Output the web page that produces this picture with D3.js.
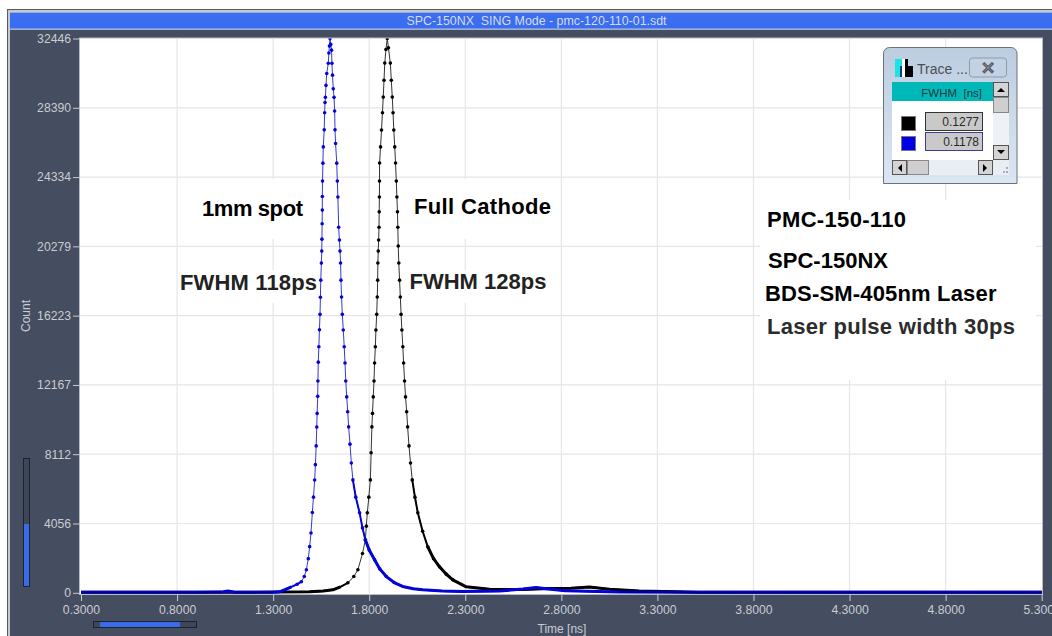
<!DOCTYPE html>
<html>
<head>
<meta charset="utf-8">
<title>SPC-150NX SING Mode</title>
<script src="https://d3js.org/d3.v7.min.js"></script>
<style>
  html, body { margin: 0; padding: 0; background: #fff; }
  svg { display: block; font-family: "Liberation Sans", Arial, sans-serif; }
</style>
</head>
<body>
<script>
// values
const timeTicks = [0.3, 0.8, 1.3, 1.8, 2.3, 2.8, 3.3, 3.8, 4.3, 4.8, 5.3];
const countTicks = [0, 4056, 8112, 12167, 16223, 20279, 24334, 28390, 32446];

const blueTime = [0.3, 0.6, 0.9, 1.03, 1.064, 1.1, 1.298, 1.334, 1.365, 1.395, 1.425, 1.447, 1.462, 1.473, 1.483, 1.49, 1.497, 1.504, 1.51, 1.516, 1.52, 1.524, 1.527, 1.529, 1.532, 1.533, 1.535, 1.538, 1.541, 1.544, 1.546, 1.548, 1.551, 1.553, 1.554, 1.555, 1.556, 1.556, 1.557, 1.559, 1.561, 1.566, 1.568, 1.57, 1.572, 1.575, 1.579, 1.587, 1.59, 1.593, 1.596, 1.6, 1.604, 1.606, 1.609, 1.613, 1.617, 1.62, 1.622, 1.625, 1.631, 1.634, 1.637, 1.641, 1.645, 1.648, 1.651, 1.653, 1.656, 1.66, 1.665, 1.67, 1.674, 1.678, 1.683, 1.688, 1.693, 1.7, 1.707, 1.715, 1.73, 1.75, 1.765, 1.78, 1.8, 1.828, 1.855, 1.889, 1.93, 1.974, 2.03, 2.078, 2.18, 2.285, 2.478, 2.6, 2.669, 2.72, 2.821, 3.1, 3.5, 4, 4.5, 5, 5.3];
const blueCount = [30, 30, 30, 40, 100, 30, 30, 60, 200, 350, 500, 650, 950, 1350, 2000, 2700, 3500, 4700, 5600, 6600, 7500, 8600, 9700, 10500, 11500, 12400, 13500, 14400, 15400, 16300, 17300, 18300, 19300, 20000, 20700, 21600, 22400, 23200, 24100, 25150, 26100, 27100, 28100, 28700, 29000, 29700, 30400, 31000, 31600, 32000, 32446, 32100, 31765, 31000, 30300, 29500, 29000, 28200, 27100, 26300, 25150, 24100, 23166, 21400, 20650, 20000, 19305, 18300, 17316, 16300, 15385, 14400, 13455, 12400, 11466, 10600, 9711, 8700, 7600, 6610, 5600, 4680, 3800, 3100, 2500, 1930, 1400, 950, 600, 370, 240, 175, 110, 80, 100, 220, 310, 240, 120, 50, 30, 30, 30, 30, 30];

const blackTime = [0.3, 1, 1.334, 1.49, 1.56, 1.611, 1.65, 1.689, 1.72, 1.741, 1.765, 1.78, 1.785, 1.79, 1.798, 1.806, 1.81, 1.814, 1.817, 1.821, 1.825, 1.828, 1.832, 1.835, 1.839, 1.842, 1.844, 1.845, 1.847, 1.849, 1.851, 1.852, 1.853, 1.8535, 1.854, 1.859, 1.864, 1.869, 1.873, 1.877, 1.881, 1.887, 1.894, 1.9, 1.91, 1.915, 1.92, 1.924, 1.928, 1.933, 1.937, 1.941, 1.944, 1.947, 1.949, 1.951, 1.954, 1.958, 1.962, 1.966, 1.97, 1.975, 1.979, 1.984, 1.989, 1.995, 2, 2.007, 2.015, 2.024, 2.038, 2.053, 2.078, 2.105, 2.135, 2.166, 2.2, 2.235, 2.305, 2.426, 2.6, 2.738, 2.85, 2.946, 3.05, 3.205, 3.517, 4.5, 5.3];
const blackCount = [30, 30, 40, 58, 110, 175, 350, 585, 950, 1345, 2300, 3100, 3900, 4680, 5600, 6610, 8200, 9711, 10500, 11466, 12400, 13455, 14400, 15385, 16300, 17316, 18300, 19305, 20000, 20650, 21400, 22300, 23166, 24100, 25155, 26100, 27085, 28100, 29016, 30000, 31005, 31800, 32446, 31900, 31005, 30000, 29016, 28100, 27085, 26100, 25155, 24100, 23166, 22300, 21400, 20300, 19305, 18300, 17316, 16300, 15385, 14400, 13455, 12400, 11466, 10600, 9711, 8600, 7600, 6610, 5600, 4680, 3600, 2691, 2000, 1520, 1100, 760, 350, 205, 190, 250, 270, 333, 210, 100, 30, 30, 30];

const labels = ["1mm spot", "Full Cathode", "FWHM 118ps", "FWHM 128ps", "PMC-150-110", "SPC-150NX", "BDS-SM-405nm Laser", "Laser pulse width 30ps"];
const labelX = [202, 414, 180, 409.5, 767, 768, 765, 767];
const labelW = [101, 137, 137, 137, 139, 120, 231.5, 248];
const labelY = [215.7, 214.3, 290, 289, 227.3, 268.3, 300.7, 334];
const labelColor = ["#000", "#000", "#222", "#222", "#000", "#000", "#000", "#2c2c2c"];

const fwhmValues = ["0.1277", "0.1178"];
const fwhmColors = ["#000", "#0000e6"];

const w = 1052;
const h = 636;
const panel = "#454d60";
const tickColor = "#c9ccd2";

const svg = d3.select("body").append("svg").attr("width", w).attr("height", h);

// window frame
svg.append("rect").attr("width", w).attr("height", h).attr("fill", "#fff");
svg.append("rect").attr("x", 7).attr("y", 9).attr("width", w).attr("height", h).attr("fill", "#5a5a5e");
svg.append("rect").attr("x", 8).attr("y", 10).attr("width", w).attr("height", h).attr("fill", "#c4c8d0");
svg.append("rect").attr("x", 10).attr("y", 29).attr("width", w).attr("height", h).attr("fill", panel);
svg.append("rect").attr("x", 10).attr("y", 12.7).attr("width", w).attr("height", 16).attr("fill", "#3a6df0");
svg.append("rect").attr("x", 10).attr("y", 28.7).attr("width", w).attr("height", 1.2).attr("fill", "#a9bce0");
svg.append("text").attr("x", 536.5).attr("y", 25).attr("text-anchor", "middle")
  .attr("font-size", 12.4).attr("fill", "#d5dcea").attr("xml:space", "preserve")
  .text("SPC-150NX  SING Mode - pmc-120-110-01.sdt");

// scales
const xScale = d3.scaleLinear().domain([0.3, 5.3]).range([81, 1041.7]);
const yScale = d3.scaleLinear().domain([0, 32446]).range([592.8, 38.5]);

// plot background and grid
svg.append("rect").attr("x", 79.5).attr("y", 38).attr("width", 963).attr("height", 556.5)
  .attr("fill", "#fff").attr("stroke", "#b9bcc4").attr("stroke-width", 1);

svg.selectAll(".vgrid").data(timeTicks.slice(1, -1)).enter().append("line")
  .attr("x1", (d) => xScale(d)).attr("x2", (d) => xScale(d))
  .attr("y1", 38.5).attr("y2", 593)
  .attr("stroke", "#e6e6e6").attr("stroke-width", 1.2);
svg.selectAll(".hgrid").data(countTicks.slice(1, -1)).enter().append("line")
  .attr("x1", 80).attr("x2", 1042)
  .attr("y1", (d) => yScale(d)).attr("y2", (d) => yScale(d))
  .attr("stroke", "#e6e6e6").attr("stroke-width", 1.2);

// white boxes pasted under the annotations hide the grid
const boxes = [[190, 179, 130, 60], [410, 179, 145, 60], [178, 270, 140, 33], [408, 270, 140, 33], [760, 200, 276, 180]];
svg.selectAll(".box").data(boxes).enter().append("rect")
  .attr("x", (d) => d[0]).attr("y", (d) => d[1]).attr("width", (d) => d[2]).attr("height", (d) => d[3])
  .attr("fill", "#fff");

// axes
const xAxis = d3.axisBottom(xScale).tickValues(timeTicks).tickFormat(d3.format(".4f")).tickSize(6).tickPadding(4);
const yAxis = d3.axisLeft(yScale).tickValues(countTicks).tickFormat(d3.format("d")).tickSize(7).tickPadding(2);

const gx = svg.append("g").attr("transform", "translate(0,595)").call(xAxis);
const gy = svg.append("g").attr("transform", "translate(80,0)").call(yAxis);
[gx, gy].forEach((g) => {
  g.select(".domain").remove();
  g.selectAll("line").attr("stroke", tickColor);
  g.selectAll("text").attr("fill", tickColor).attr("font-size", 12.2).attr("font-family", "Liberation Sans, Arial, sans-serif");
});

svg.append("text").attr("x", 562).attr("y", 633).attr("text-anchor", "middle")
  .attr("font-size", 12).attr("fill", tickColor).text("Time [ns]");
svg.append("text").attr("transform", "translate(30,316) rotate(-90)").attr("text-anchor", "middle")
  .attr("font-size", 12).attr("fill", tickColor).text("Count");

// sliders
svg.append("rect").attr("x", 23.5).attr("y", 458.5).attr("width", 6).attr("height", 128)
  .attr("fill", "#3f4657").attr("stroke", "#1d2230");
svg.append("rect").attr("x", 24).attr("y", 524).attr("width", 5).attr("height", 62).attr("fill", "#3b6ce8");
svg.append("rect").attr("x", 93.5).attr("y", 621.5).attr("width", 103).attr("height", 6)
  .attr("fill", "#3f4657").attr("stroke", "#1d2230");
svg.append("rect").attr("x", 100).attr("y", 622).attr("width", 80).attr("height", 5).attr("fill", "#3b6ce8");

// curves
svg.append("clipPath").attr("id", "plot-clip").append("rect")
  .attr("x", 80).attr("y", 38.5).attr("width", 962.5).attr("height", 556);

const plot = svg.append("g").attr("clip-path", "url(#plot-clip)");

function drawTrace(times, counts, lineColor, dotColor) {
  const pts = times.map((t, i) => ({ t: t, c: counts[i] }));
  const peak = times[counts.indexOf(d3.max(counts))];
  const line = d3.line().x((d) => xScale(d.t)).y((d) => yScale(d.c));

  plot.append("path").datum(pts).attr("d", line)
    .attr("fill", "none").attr("stroke", lineColor).attr("stroke-width", 1);

  // channels crowd together in the tails, so the trace gets heavier there
  [[700, 7500, 2], [500, 3500, 3]].forEach((s) => {
    plot.append("path").datum(pts)
      .attr("d", line.defined((d) => d.c < (d.t < peak ? s[0] : s[1])))
      .attr("fill", "none").attr("stroke", dotColor).attr("stroke-width", s[2]).attr("stroke-linejoin", "round");
  });
  line.defined(() => true);

  plot.selectAll(null).data(pts.filter((d) => d.c > 400)).enter().append("circle")
    .attr("cx", (d) => xScale(d.t)).attr("cy", (d) => yScale(d.c)).attr("r", 1.8)
    .attr("fill", dotColor);
}

drawTrace(blackTime, blackCount, "#333", "#000");
drawTrace(blueTime, blueCount, "#3a3ad0", "#0404d8");

// navy core where both traces lie on the floor
plot.append("path").datum(blueTime.map((t, i) => ({ t: t, c: blueCount[i] })))
  .attr("d", d3.line().defined((d) => d.c <= 50).x((d) => xScale(d.t)).y((d) => yScale(d.c)))
  .attr("fill", "none").attr("stroke", "#00007a").attr("stroke-width", 1.2);

// annotations
svg.selectAll(".note").data(labels).enter().append("text")
  .attr("x", (d, i) => labelX[i]).attr("y", (d, i) => labelY[i])
  .attr("textLength", (d, i) => labelW[i]).attr("lengthAdjust", "spacing")
  .attr("font-size", 22).attr("font-weight", "bold")
  .attr("fill", (d, i) => labelColor[i])
  .text((d) => d);

// floating trace window
const win = svg.append("g");
const grad = svg.append("linearGradient").attr("id", "win-bg").attr("x1", 0).attr("y1", 0).attr("x2", 0).attr("y2", 1);
grad.append("stop").attr("offset", "0").attr("stop-color", "#bccde0");
grad.append("stop").attr("offset", "1").attr("stop-color", "#dbe6f3");
win.append("path").attr("d", "M883.5 183.5V54a6 6 0 0 1 6-6.5H1011a6 6 0 0 1 6 6.5V183.5Z")
  .attr("fill", "url(#win-bg)").attr("stroke", "#6d7278");

// icon
win.append("rect").attr("x", 895).attr("y", 59).attr("width", 7).attr("height", 18).attr("fill", "#1be3e8");
win.append("rect").attr("x", 900).attr("y", 66).attr("width", 5).attr("height", 11).attr("fill", "#0a3a70");
win.append("rect").attr("x", 902).attr("y", 59).attr("width", 3).attr("height", 18).attr("fill", "#fff");
win.append("rect").attr("x", 905).attr("y", 59).attr("width", 3).attr("height", 18).attr("fill", "#000");
win.append("rect").attr("x", 905).attr("y", 66).attr("width", 8).attr("height", 11).attr("fill", "#000");
win.append("text").attr("x", 917).attr("y", 74).attr("font-size", 14).attr("fill", "#4a4f57").text("Trace ...");

// close button
win.append("rect").attr("x", 969.5).attr("y", 58).attr("width", 37).attr("height", 19).attr("rx", 3)
  .attr("fill", "#c3d2e2").attr("stroke", "#8d9aaa");
win.append("text").attr("x", 988).attr("y", 74).attr("text-anchor", "middle")
  .attr("font-size", 17).attr("font-weight", "bold").attr("fill", "#f4f6f8")
  .attr("stroke", "#555c66").attr("stroke-width", 0.7).text("\u2715");

// table area
win.append("rect").attr("x", 892).attr("y", 82).attr("width", 101).attr("height", 78).attr("fill", "#fff");
win.append("rect").attr("x", 892).attr("y", 82).attr("width", 101).attr("height", 19).attr("fill", "#00b8b8");
win.append("text").attr("x", 982).attr("y", 97).attr("text-anchor", "end")
  .attr("font-size", 11.5).attr("fill", "#24393c").attr("xml:space", "preserve").text("FWHM  [ns]");

// scrollbars
win.append("rect").attr("x", 993).attr("y", 82).attr("width", 16).attr("height", 78).attr("fill", "#eef2f6");
win.append("rect").attr("x", 993.5).attr("y", 82.5).attr("width", 15).attr("height", 14).attr("fill", "#d4d4d4").attr("stroke", "#555");
win.append("rect").attr("x", 993.5).attr("y", 97.5).attr("width", 15).attr("height", 15).attr("fill", "#cfcfcf").attr("stroke", "#888");
win.append("rect").attr("x", 993.5).attr("y", 145.5).attr("width", 15).attr("height", 14).attr("fill", "#d4d4d4").attr("stroke", "#555");
win.append("path").attr("d", "M997 92l4-4 4 4Z M997 150l4 4 4-4Z").attr("fill", "#000");
win.append("rect").attr("x", 892).attr("y", 160).attr("width", 117).attr("height", 15).attr("fill", "#e9eef4");
win.append("rect").attr("x", 892.5).attr("y", 160.5).attr("width", 14).attr("height", 14).attr("fill", "#d4d4d4").attr("stroke", "#555");
win.append("rect").attr("x", 907.5).attr("y", 160.5).attr("width", 21).attr("height", 14).attr("fill", "#cfcfcf").attr("stroke", "#888");
win.append("rect").attr("x", 978.5).attr("y", 160.5).attr("width", 14).attr("height", 14).attr("fill", "#d4d4d4").attr("stroke", "#555");
win.append("path").attr("d", "M902 164l-4 4 4 4Z M983 164l4 4-4 4Z").attr("fill", "#000");

// resize grip
win.append("path").attr("d", "M1006 167h2v2h-2Z M1003 171h2v2h-2Z M1006 171h2v2h-2Z")
  .attr("fill", "#a4adb8");

// FWHM rows
fwhmValues.forEach((v, i) => {
  const top = 112 + i * 20;
  win.append("rect").attr("x", 901.5).attr("y", top + 4.5).attr("width", 14).attr("height", 14)
    .attr("fill", fwhmColors[i]).attr("stroke", "#777");
  win.append("rect").attr("x", 925.5).attr("y", top + 0.5).attr("width", 57).attr("height", 18)
    .attr("fill", "#c9c9c9").attr("stroke", i ? "#3c3c90" : "#333");
  win.append("text").attr("x", 979).attr("y", top + 14).attr("text-anchor", "end")
    .attr("font-size", 12).attr("fill", "#2a2a2a").text(v);
});
</script>
</body>
</html>
